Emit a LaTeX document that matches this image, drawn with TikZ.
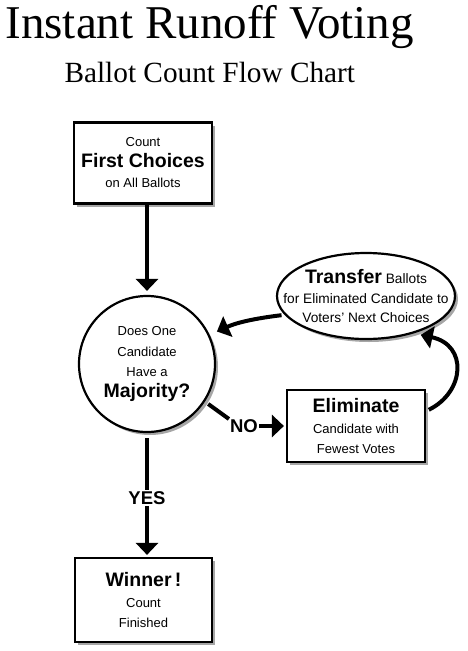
\documentclass[tikz,border=0pt]{standalone}
\usepackage{fontspec}
\setmainfont{Liberation Serif}
\setsansfont{Liberation Sans}
\usetikzlibrary{arrows.meta,shapes.geometric,shadows}

\begin{document}
\begin{tikzpicture}[x=1pt, y=-1pt,
  font=\sffamily\fontsize{13}{20.5}\selectfont,
  shade/.style={drop shadow={shadow xshift=3pt, shadow yshift=-3pt, fill=black!50, opacity=0.7}},
  box/.style={draw, line width=2.2pt, fill=white, align=center, inner sep=0pt, shade},
  oval/.style={box, ellipse, inner xsep=-20pt, inner ysep=0pt},
  round/.style={box, circle},
  lbl/.style={inner sep=1pt, font=\sffamily\bfseries\fontsize{18.5}{20}\selectfont},
  a/.style={-{Triangle[length=12pt, width=22pt]}, line width=4pt},
  l/.style={line width=4pt}
]
\useasboundingbox (0,0) rectangle (467,651);

\node[anchor=base west, font=\rmfamily\fontsize{47}{50}\selectfont] (title) at (2,38) {Instant Runoff Voting};
\node[anchor=base west, font=\rmfamily\fontsize{29.3}{32}\selectfont] (subtitle) at (61,82) {Ballot Count Flow Chart};

\node[box, minimum width=138pt, minimum height=81pt] (first) at (143,163)
  {Count\\{\bfseries\fontsize{19.5}{20.5}\selectfont First Choices}\\on All Ballots};
\node[round, minimum size=136pt] (maj) at (147,364)
  {Does One\\Candidate\\Have a\\{\bfseries\fontsize{19.5}{20.5}\selectfont Majority?}};
\node[oval, minimum width=178pt, minimum height=86pt, font=\sffamily\fontsize{13.7}{19.5}\selectfont] (transfer) at (366,296)
  {{\bfseries\fontsize{19.5}{19.5}\selectfont Transfer} Ballots\\for Eliminated Candidate to\\Voters' Next Choices};
\node[box, minimum width=138pt, minimum height=72pt] (elim) at (356,426)
  {{\bfseries\fontsize{19.5}{20.5}\selectfont Eliminate}\\Candidate with\\Fewest Votes};
\node[box, minimum width=137pt, minimum height=84pt] (winner) at (143.5,600)
  {{\bfseries\fontsize{19.5}{20.5}\selectfont Winner\,!}\\Count\\Finished};

\node[lbl] (no) at (244,426) {NO};
\node[lbl] (yes) at (147,498) {YES};

% connectors
\draw[a, shorten >=4pt] (maj.north |- first.south) -- (maj.north);
\draw[l, shorten <=5pt] (maj.south) -- (yes.north);
\draw[a, shorten >=2pt] (yes.south) -- (yes.south |- winner.north);
\draw[l, shorten <=4pt] (maj.-33) -- (no.155);
\draw[a, shorten >=2pt] (no.east) -- (elim.west);
\draw[a, shorten <=3pt, shorten >=7pt] (elim.12) .. controls (465,392) and (468,345) .. (transfer.-38);
\draw[a, shorten <=3pt, shorten >=8pt] (transfer.193) .. controls (258,318) and (238,322) .. (maj.25);
\end{tikzpicture}
\end{document}
